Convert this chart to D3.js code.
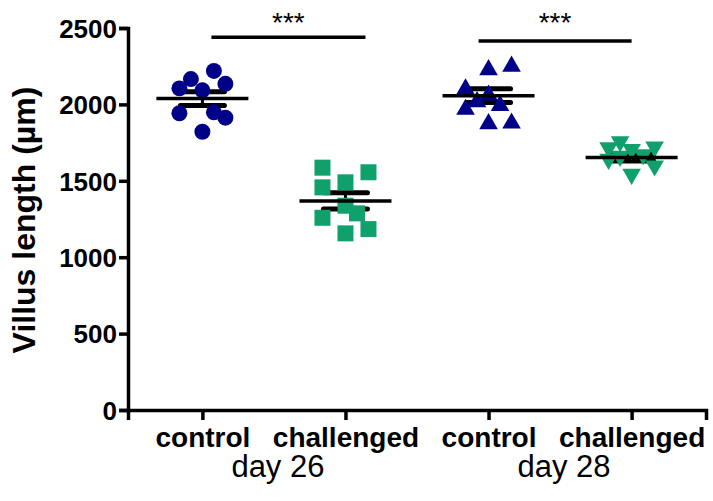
<!DOCTYPE html>
<html>
<head>
<meta charset="utf-8">
<script src="https://cdn.jsdelivr.net/npm/d3@7"></script>
<style>
  body { margin: 0; background: #fff; }
  text { font-family: "Liberation Sans", Arial, sans-serif; }
</style>
</head>
<body>
<div id="chart"></div>
<script>
    "use strict";

    // *** data ***
    var groups = ['d26 control', 'd26 challenged', 'd28 control', 'd28 challenged'];
    var groupLabels = ['control', 'challenged', 'control', 'challenged'];
    var days = ['day 26', 'day 28'];
    var yTicks = [0, 500, 1000, 1500, 2000, 2500];

    var d26Control = [2219, 2166, 2135, 2105, 2092, 1948, 1942, 1913, 1821];
    var d26ControlSlot = [1, -1, 2, -2, 0, 1, -2, 2, 0];
    var d26Challenged = [1586, 1556, 1457, 1490, 1337, 1287, 1258, 1184, 1156];
    var d26ChallengedSlot = [-2, 2, -2, 0, 0, 1, -2, 2, 0];
    var d28Control = [2243, 2266, 2117, 2077, 2033, 2009, 1983, 1889, 1893];
    var d28ControlSlot = [0, 2, -2, 0, -1, 1, -2, 0, 2];
    var d28Challenged = [1740, 1700, 1690, 1705, 1655, 1625, 1527, 1582, 1645];
    var d28ChallengedSlot = [-1, -2, 0, 2, 1, -2, 0, 2, -1];

    // significance brackets: group index from/to, level
    var sigFrom = [0, 2];
    var sigTo = [1, 3];
    var sigLevel = [2440, 2415];
    var sigLabel = ['***', '***'];

    var series = [
        {values: d26Control, slots: d26ControlSlot, shape: 'circle', color: '#000088'},
        {values: d26Challenged, slots: d26ChallengedSlot, shape: 'square', color: '#10a06c'},
        {values: d28Control, slots: d28ControlSlot, shape: 'up', color: '#000088'},
        {values: d28Challenged, slots: d28ChallengedSlot, shape: 'down', color: '#10a06c'}
    ];

    var width = 713, height = 501;
    var margin = {top: 28, bottom: 91, left: 128, right: 7};

    var svg = d3.select('#chart').append('svg')
        .attr('width', width)
        .attr('height', height);

    var x = d3.scalePoint()
        .domain(groups)
        .range([margin.left, width - margin.right])
        .padding(0.52);

    var y = d3.scaleLinear()
        .domain([0, 2500])
        .range([height - margin.bottom, margin.top]);

    var slotStep = 11.5;

    // *** axes ***
    var yAxis = svg.append('g')
        .attr('transform', 'translate(' + margin.left + ',0)')
        .call(d3.axisLeft(y).tickValues(yTicks).tickFormat(d3.format('d'))
            .tickSizeOuter(0).tickSize(9).tickPadding(2));

    var xAxis = svg.append('g')
        .attr('transform', 'translate(0,' + y(0) + ')')
        .call(d3.axisBottom(x).tickSizeOuter(0).tickSize(10)
            .tickFormat(function (d, i) { return groupLabels[i]; }).tickPadding(7));

    [yAxis, xAxis].forEach(function (g) {
        g.select('.domain').attr('stroke', '#000').attr('stroke-width', 3.5);
        g.selectAll('.tick line').attr('stroke', '#000').attr('stroke-width', 3.5);
        g.selectAll('.tick text')
            .attr('fill', '#000')
            .style('font-weight', 'bold');
    });
    yAxis.selectAll('.tick text').style('font-size', '26px').attr('dy', '0.36em');
    xAxis.selectAll('.tick text').style('font-size', '28px').attr('dy', '0.71em');

    // day labels under each pair
    svg.selectAll('.day')
        .data(days)
        .enter().append('text')
        .attr('class', 'day')
        .attr('x', function (d, i) { return (x(groups[i * 2]) + x(groups[i * 2 + 1])) / 2 + 4; })
        .attr('y', 477)
        .attr('text-anchor', 'middle')
        .style('font-size', '31px')
        .text(function (d) { return d; });

    svg.append('text')
        .attr('transform', 'translate(35,' + ((y(0) + y(2500)) / 2 + 1) + ') rotate(-90)')
        .attr('text-anchor', 'middle')
        .style('font-size', '32px')
        .style('font-weight', 'bold')
        .text('Villus length (µm)');

    // *** points, SEM under them, mean line on top ***
    var sym = {
        circle: d3.symbol().type(d3.symbolCircle).size(200),
        square: d3.symbol().type(d3.symbolSquare).size(256),
        up: d3.symbol().type(d3.symbolTriangle).size(150)
    };

    var semLayer = svg.append('g').attr('stroke', '#000');
    var dotLayer = svg.append('g');
    var meanLayer = svg.append('g').attr('stroke', '#000');

    series.forEach(function (s, gi) {
        var cx = x(groups[gi]);
        dotLayer.append('g').selectAll('path')
            .data(s.values)
            .enter().append('path')
            .attr('d', s.shape == 'down' ? sym.up() : sym[s.shape]())
            .attr('fill', s.color)
            .attr('transform', function (d, i) {
                var px = cx + s.slots[i] * slotStep;
                var py = y(d);
                if (s.shape == 'up') py += 2.5;
                if (s.shape == 'down') return 'translate(' + px + ',' + (py - 2.5) + ') rotate(180)';
                return 'translate(' + px + ',' + py + ')';
            });

        var m = d3.mean(s.values);
        var sem = d3.deviation(s.values) / Math.sqrt(s.values.length);
        semLayer.append('line')
            .attr('x1', cx).attr('x2', cx)
            .attr('y1', y(m + sem)).attr('y2', y(m - sem))
            .attr('stroke-width', 3);
        [m + sem, m - sem].forEach(function (v) {
            semLayer.append('line')
                .attr('x1', cx - 22).attr('x2', cx + 22)
                .attr('y1', y(v)).attr('y2', y(v))
                .attr('stroke-width', 5)
                .attr('stroke-linecap', 'round');
        });
        meanLayer.append('line')
            .attr('x1', cx - 46).attr('x2', cx + 46)
            .attr('y1', y(m)).attr('y2', y(m))
            .attr('stroke-width', 3.5);
    });

    // *** significance bars ***
    var sigPad = [[9, 20], [-10, 0]];
    sigFrom.forEach(function (f, i) {
        var x1 = x(groups[f]) + sigPad[i][0];
        var x2 = x(groups[sigTo[i]]) + sigPad[i][1];
        svg.append('line')
            .attr('x1', x1).attr('x2', x2)
            .attr('y1', y(sigLevel[i])).attr('y2', y(sigLevel[i]))
            .attr('stroke', '#000')
            .attr('stroke-width', 3.5);
        svg.append('text')
            .attr('x', (x1 + x2) / 2)
            .attr('y', y(2500) + 4)
            .attr('text-anchor', 'middle')
            .style('font-size', '28px')
            .text(sigLabel[i]);
    });
</script>
</body>
</html>
